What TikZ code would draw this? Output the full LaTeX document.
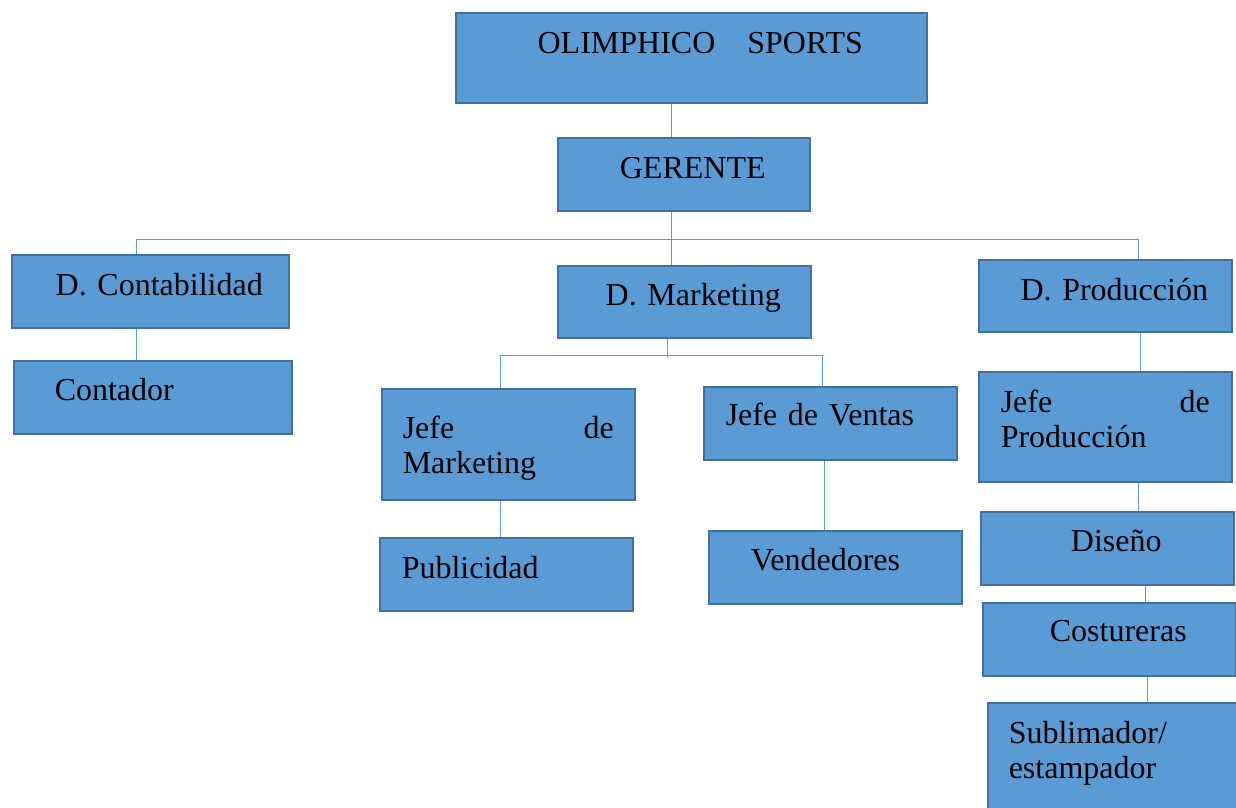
\documentclass[tikz,border=0pt]{standalone}
\usepackage{fontspec}
\setmainfont{Liberation Serif}
\frenchspacing
\definecolor{boxfill}{HTML}{5B9BD5}
\definecolor{boxedge}{HTML}{41719C}
\definecolor{linkblue}{HTML}{5B9BD5}
\tikzset{
  unit/.style={draw=boxedge, fill=boxfill, line width=1.5pt, anchor=north west,
    inner ysep=0pt, font=\fontsize{32}{35}\selectfont},
  % width, height, baseline, left pad
  lbox/.style n args={4}{unit, inner xsep=#4, text width=#1-2*#4,
    text height=#3, text depth=#2-#3, align=left},
  % width, height, baseline (text a little right of centre)
  cbox/.style n args={3}{unit, inner xsep=0pt, text width=#1,
    text height=#3, text depth=#2-#3, align=center,
    execute at begin node=\hspace*{18pt}},
  link/.style={draw=linkblue, line width=1pt}
}
\begin{document}
\begin{tikzpicture}[x=1pt,y=-1pt]
    \useasboundingbox (0,0) rectangle (1236,807);

    % Top
    \node[cbox={471}{90}{41}] (olim) at (455,12) {OLIMPHICO\ \ \ SPORTS};
    \node[cbox={252}{73}{41}] (ger) at (557,137) {GERENTE};

    % Departments
    \node[cbox={277}{73}{41}] (dcont) at (11,254) {D. Contabilidad};
    \node[cbox={253}{72}{40}] (dmkt) at (557,265) {D. Marketing};
    \node[cbox={253}{72}{41}] (dprod) at (978,259) {D. Producción};

    % Contabilidad
    \node[lbox={278}{73}{40}{41}] (cont) at (13,360) {Contador};

    % Marketing
    \node[lbox={253}{111}{50}{21}] (jmkt) at (381,388) {Jefe\hfill de\\Marketing};
    \node[lbox={253}{73}{39}{22}] (jven) at (703,386) {Jefe de Ventas};
    \node[lbox={253}{73}{41}{22}] (publ) at (379,537) {Publicidad};
    \node[lbox={253}{73}{40}{42}] (vend) at (708,530) {Vendedores};

    % Produccion
    \node[lbox={253}{110}{41}{22}] (jprod) at (978,371) {Jefe\hfill de\\Producción};
    \node[cbox={253}{73}{40}] (dis) at (980,511) {Diseño};
    \node[cbox={253}{73}{39}] (cost) at (982,602) {Costureras};
    \node[lbox={253}{115}{41}{21}] (subl) at (987,702) {Sublimador/\\estampador};

    % Bus lines
    \coordinate (busL) at (136,239);
    \coordinate (busM) at (671,239);
    \coordinate (busR) at (1138,239);
    \coordinate (mbusL) at (500,355);
    \coordinate (mbusM) at (667,358);
    \coordinate (mbusR) at (822,355);

    % Links
    \draw[link] (olim.south -| busM) -- (ger.north -| busM);
    \draw[link] (busL) -- (busR);
    \draw[link] (busM |- ger.south) -- (busM |- dmkt.north);
    \draw[link] (busL) -- (busL |- dcont.north);
    \draw[link] (busR) -- (busR |- dprod.north);
    \draw[link] (dcont.south -| busL) -- (cont.north -| busL);

    \draw[link] (mbusL) -- (mbusR);
    \draw[link] (mbusM |- dmkt.south) -- (mbusM);
    \draw[link] (mbusL) -- (mbusL |- jmkt.north);
    \draw[link] (mbusR) -- (mbusR |- jven.north);
    \draw[link] (jmkt.south -| mbusL) -- (publ.north -| mbusL);
    \draw[link] ([xshift=2]jven.south -| mbusR) -- ([xshift=2]vend.north -| mbusR);

    \draw[link] ([xshift=2]dprod.south -| busR) -- ([xshift=2]jprod.north -| busR);
    \draw[link] (jprod.south -| busR) -- (dis.north -| busR);
    \draw[link] ([xshift=38]dis.south) -- ([xshift=38]dis.south |- cost.north);
    \draw[link] ([xshift=38]cost.south) -- ([xshift=38]cost.south |- subl.north);
\end{tikzpicture}
\end{document}
